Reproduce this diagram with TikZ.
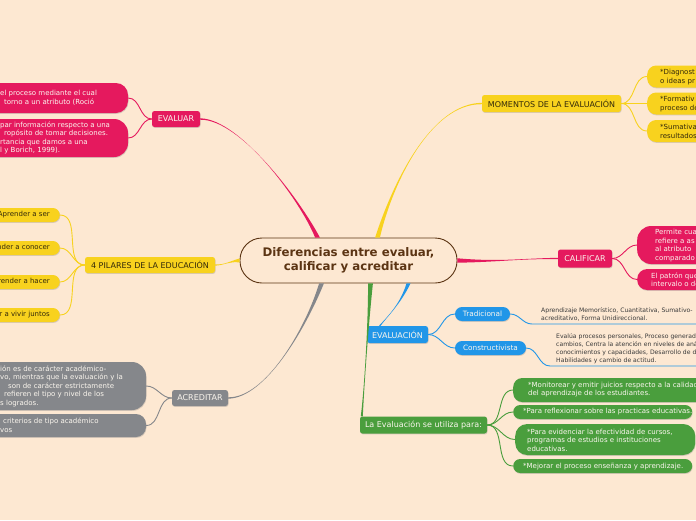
\documentclass[tikz,border=0pt]{standalone}
\usepackage{fontspec}
\setmainfont{DejaVu Sans}
\usetikzlibrary{calc,shadows}
\definecolor{bgc}{HTML}{FDE8D2}
\definecolor{pinkc}{HTML}{E5195E}
\definecolor{yelc}{HTML}{F8D21E}
\definecolor{grayc}{HTML}{85878B}
\definecolor{bluec}{HTML}{2196E8}
\definecolor{greenc}{HTML}{4A9E3D}
\definecolor{brownc}{HTML}{5B3413}
\definecolor{darktxt}{HTML}{33290A}
\definecolor{lighttxt}{HTML}{FBF6EE}
\definecolor{leaftxt}{HTML}{3A3A3A}
\newcommand\mmbranch[7]{\fill[#1] ($#2+#3$) .. controls #4 and #5 .. ($#6+#7$) -- ($#6-#7$) .. controls #5 and #4 .. ($#2-#3$) -- cycle;}
\tikzset{
  shad/.style={drop shadow={shadow xshift=0.5pt,shadow yshift=-0.9pt,opacity=0.3}},
  cat/.style={shad, rounded corners=2.5pt, inner sep=0pt, font=\fontsize{8}{9}\selectfont},
  box/.style={shad, inner sep=0pt},
  pill/.style={box, fill=yelc, text=darktxt, rounded corners=7pt, minimum height=14pt, inner xsep=10pt, anchor=east, font=\fontsize{7}{8}\selectfont},
  txt/.style={inner sep=0pt, align=left, anchor=west, font=\fontsize{7}{8.5}\selectfont},
  ltxt/.style={inner sep=0pt, align=left, anchor=west, text=leaftxt},
  sub/.style={line width=0.9pt},
}
\begin{document}
\begin{tikzpicture}[x=1pt,y=-1pt]
\useasboundingbox (0,0) rectangle (696,520);
\fill[bgc] (0,0) rectangle (696,520);
\clip (0,0) rectangle (696,520);

% central
\node[draw=brownc, line width=0.9pt, fill=bgc, rounded corners=22pt, minimum width=217pt, minimum height=45pt, align=center, text=brownc, font=\bfseries\fontsize{11.8}{14.5}\selectfont] (c) at (348.5,260.5) {Diferencias entre evaluar,\\calificar y acreditar};

% categories
\node[cat, fill=pinkc, text=lighttxt, minimum width=48pt, minimum height=16pt] (ev) at (176,119) {EVALUAR};
\node[cat, fill=yelc, text=darktxt, minimum width=130pt, minimum height=16pt] (pil) at (150,265) {4 PILARES DE LA EDUCACIÓN};
\node[cat, fill=grayc, text=lighttxt, minimum width=56pt, minimum height=16pt] (acr) at (200,398) {ACREDITAR};
\node[cat, fill=yelc, text=darktxt, minimum width=139pt, minimum height=17pt] (mom) at (551.5,103.5) {MOMENTOS DE LA EVALUACIÓN};
\node[cat, fill=pinkc, text=lighttxt, minimum width=54pt, minimum height=18pt] (cal) at (585,258.5) {CALIFICAR};
\node[cat, fill=bluec, text=lighttxt, minimum width=61pt, minimum height=17pt] (evq) at (397.5,334.5) {EVALUACIÓN};
\node[cat, fill=greenc, text=lighttxt, minimum width=127pt, minimum height=17pt] (use) at (423.5,425) {La Evaluación se utiliza para:};
\node[cat, fill=bluec, text=lighttxt, rounded corners=7pt, minimum width=55pt, minimum height=14pt, font=\fontsize{7.3}{8.5}\selectfont] (tra) at (482.5,314) {Tradicional};
\node[cat, fill=bluec, text=lighttxt, rounded corners=7pt, minimum width=71pt, minimum height=14pt, font=\fontsize{7.3}{8.5}\selectfont] (con) at (490.5,348) {Constructivista};

% EVALUAR leaves
\node[box, fill=pinkc, rounded corners=12pt, minimum width=148pt, minimum height=30pt] (ev1) at (54,98) {};
\node[txt, text=lighttxt] (ev1t) at (0,98) {el proceso mediante el cual\\\hspace*{4pt}torno a un atributo (Roció};
\node[box, fill=pinkc, rounded corners=14pt, minimum width=148pt, minimum height=38pt] (ev2) at (54,138) {};
\node[txt, text=lighttxt] (ev2t) at (0,138) {par información respecto a una\\\hspace*{4pt}ropósito de tomar decisiones.\\rtancia que damos a una\\l y Borich, 1999).};

% pillars
\node[pill] (p1) at (60,215) {Aprender a ser};
\node[pill] (p2) at (60,248) {Aprender a conocer};
\node[pill] (p3) at (60,282) {Aprender a hacer};
\node[pill] (p4) at (60,315) {Aprender a vivir juntos};

% ACREDITAR leaves
\node[box, fill=grayc, rounded corners=14pt, minimum width=166pt, minimum height=48pt] (ac1) at (63,386) {};
\node[txt, text=lighttxt] (ac1t) at (0,386) {ión es de carácter académico-\\vo, mientras que la evaluación y la\\\hspace*{8pt}son de carácter estrictamente\\\hspace*{4pt}refieren el tipo y nivel de los\\s logrados.};
\node[box, fill=grayc, rounded corners=10pt, minimum width=166pt, minimum height=23pt] (ac2) at (63,425.5) {};
\node[txt, text=lighttxt] (ac2t) at (0,425) {\hspace*{3pt}criterios de tipo académico\\vos};

% MOMENTOS leaves
\node[box, fill=yelc, rounded corners=9pt, minimum width=130pt, minimum height=22pt, anchor=west] (m1) at (647,76.5) {};
\node[txt, text=darktxt, font=\fontsize{7}{9}\selectfont] (m1t) at (660,77.5) {*Diagnost\\o ideas pr};
\node[box, fill=yelc, rounded corners=9pt, minimum width=130pt, minimum height=22pt, anchor=west] (m2) at (647,103.5) {};
\node[txt, text=darktxt, font=\fontsize{7}{9}\selectfont] (m2t) at (660,104.5) {*Formativ\\proceso de};
\node[box, fill=yelc, rounded corners=9pt, minimum width=130pt, minimum height=22pt, anchor=west] (m3) at (647,131) {};
\node[txt, text=darktxt, font=\fontsize{7}{9}\selectfont] (m3t) at (660,131) {*Sumativa\\resultados};

% CALIFICAR leaves
\node[box, fill=pinkc, rounded corners=14pt, minimum width=120pt, minimum height=38pt, anchor=west] (c1) at (637,245) {};
\node[txt, text=lighttxt] (c1t) at (655,245.5) {Permite cua\\refiere a as\\al atributo\\comparado};
\node[box, fill=pinkc, rounded corners=10pt, minimum width=120pt, minimum height=21pt, anchor=west] (c2) at (637,279.5) {};
\node[txt, text=lighttxt] (c2t) at (651,279.5) {El patrón que\\intervalo o de};

% EVALUACION leaf texts
\node[ltxt, font=\fontsize{6.1}{7.5}\selectfont] (trt) at (541,314.5) {Aprendizaje Memorístico, Cuantitativa, Sumativo-\\acreditativo, Forma Unidireccional.};
\node[ltxt, font=\fontsize{6.1}{7.9}\selectfont] (cot) at (556,348.5) {Evalúa procesos personales, Proceso generado\\cambios, Centra la atención en niveles de anál\\conocimientos y capacidades, Desarrollo de de\\Habilidades y cambio de actitud.};

% green leaves
\node[box, fill=greenc, rounded corners=9pt, minimum width=250pt, minimum height=24pt, anchor=west] (g1) at (513,390) {};
\node[txt, text=lighttxt] (g1t) at (528,389.5) {*Monitorear y emitir juicios respecto a la calidad\\del aprendizaje de los estudiantes.};
\node[box, fill=greenc, rounded corners=7pt, minimum width=179pt, minimum height=14pt, anchor=west] (g2) at (513,412) {};
\node[txt, text=lighttxt] (g2t) at (523,412) {*Para reflexionar sobre las practicas educativas.};
\node[box, fill=greenc, rounded corners=12pt, minimum width=180pt, minimum height=31pt, anchor=west] (g3) at (515,439.5) {};
\node[txt, text=lighttxt] (g3t) at (527,440) {*Para evidenciar la efectividad de cursos,\\programas de estudios e instituciones\\educativas.};
\node[box, fill=greenc, rounded corners=7pt, minimum width=179pt, minimum height=14pt, anchor=west] (g4) at (513,466) {};
\node[txt, text=lighttxt] (g4t) at (523,466) {*Mejorar el proceso enseñanza y aprendizaje.};

% branch coordinates
\coordinate (sEv) at ($(c.north)+(-31,0)$);
\coordinate (sMo) at ($(c.north)+(29,0)$);
\coordinate (sAc) at ($(c.south)+(-27,0)$);
\coordinate (sGr) at ($(c.south)+(22,0)$);
\coordinate (sBl) at ($(c.south)+(60,0)$);
\coordinate (eBl) at ($(evq.north west)+(13,0)$);
\coordinate (eGr) at ($(use.north west)+(2,0)$);

% main branches
\mmbranch{pinkc}{(sEv)}{(2.4,0)}{(300,200)}{(240,119)}{(ev.east)}{(0,0.7)}
\mmbranch{yelc}{(sMo)}{(2.4,0)}{(392,185)}{(430,103.5)}{(mom.west)}{(0,0.7)}
\mmbranch{pinkc}{(c.east)}{(0,2.2)}{(500,262)}{(520,258.5)}{(cal.west)}{(0,0.7)}
\mmbranch{yelc}{(c.west)}{(0,2)}{(230,261)}{(225,265)}{(pil.east)}{(0,0.7)}
\mmbranch{grayc}{(sAc)}{(2.4,0)}{(305,330)}{(265,398)}{(acr.east)}{(0,0.7)}
\mmbranch{bluec}{(sBl)}{(2,0)}{(400,305)}{(386,318)}{(eBl)}{(0.8,0)}
\mmbranch{greenc}{(sGr)}{(2.4,0)}{(368,330)}{(364,390)}{(eGr)}{(1,0)}

% sub connectors
\draw[sub, pinkc] (ev.west) to[out=180,in=0] (ev1.east);
\draw[sub, pinkc] (ev.west) to[out=180,in=0] (ev2.east);
\foreach \p in {p1,p2,p3,p4} \draw[sub, yelc] (pil.west) to[out=180,in=0] (\p.east);
\draw[sub, grayc] (acr.west) to[out=180,in=0] (ac1.east);
\draw[sub, grayc] (acr.west) to[out=180,in=0] (ac2.east);
\foreach \m in {m1,m2,m3} \draw[sub, yelc] (mom.east) to[out=0,in=180] (\m.west);
\draw[sub, pinkc] (cal.east) to[out=0,in=180] (c1.west);
\draw[sub, pinkc] (cal.east) to[out=0,in=180] (c2.west);
\draw[sub, bluec] (evq.east) to[out=0,in=180] (tra.west);
\draw[sub, bluec] (evq.east) to[out=0,in=180] (con.west);
\foreach \g in {g1,g2,g3,g4} \draw[sub, greenc] (use.east) to[out=0,in=180] (\g.west);

% underlines of leaf texts
\coordinate (tu1) at (532,324);
\coordinate (tu2) at (700,324);
\coordinate (cu1) at (550,366);
\coordinate (cu2) at (700,366);
\draw[sub, bluec] (tra.east) to[out=0,in=180] (tu1) -- (tu2);
\draw[sub, bluec] (con.east) to[out=0,in=180] (cu1) -- (cu2);
\end{tikzpicture}
\end{document}
